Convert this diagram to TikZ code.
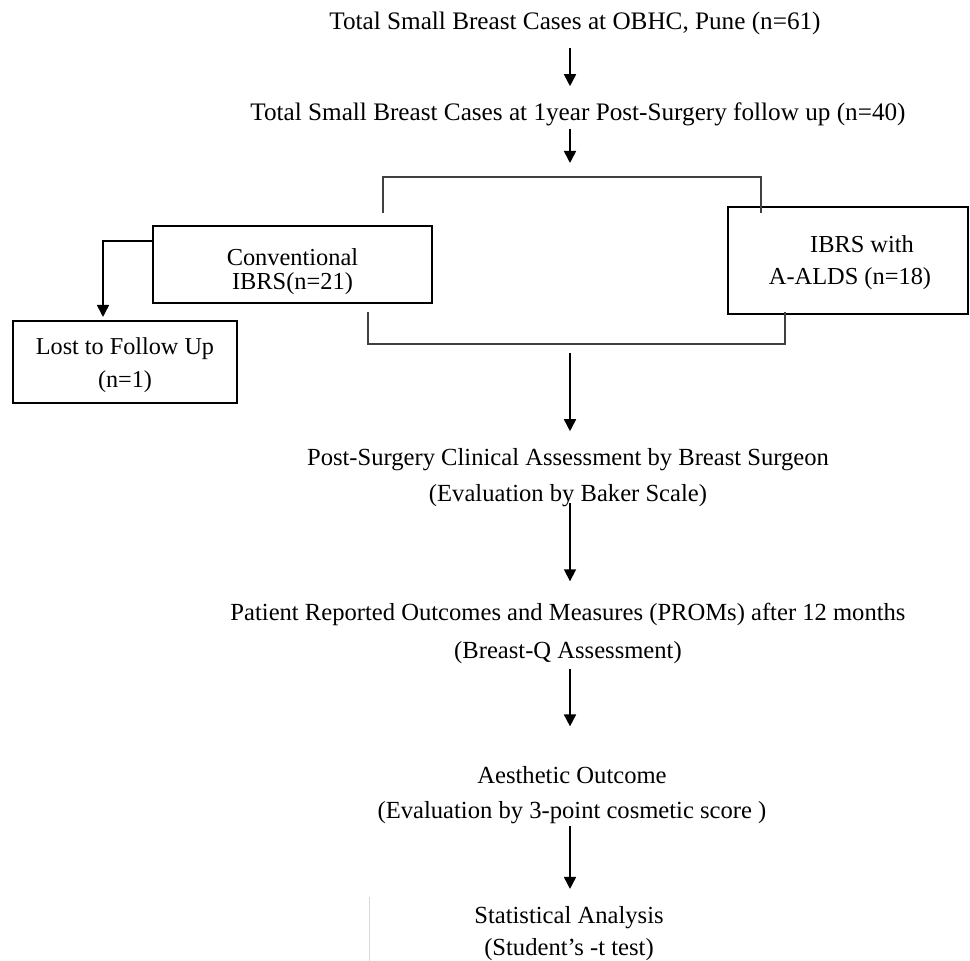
\documentclass[tikz,border=0pt]{standalone}
\usepackage{fontspec}
\setmainfont{Liberation Serif}
\usetikzlibrary{arrows,arrows.meta}
\usetikzlibrary{positioning}

\begin{document}
\begin{tikzpicture}[x=0.5pt,y=-0.5pt,->,>={Triangle[length=6pt,width=6pt]},semithick]
	\tikzstyle{every node}=[text=black]
	\tikzstyle{stage}=[align=center, inner sep=1pt, font=\fontsize{12.3}{18}\selectfont]
	\tikzstyle{head}=[stage, font=\fontsize{12.6}{16}\selectfont]
	\tikzstyle{group}=[draw=black, line width=1pt, inner sep=1pt]
	\tikzstyle{caption}=[align=center, inner sep=1pt]
	\tikzstyle{bracket}=[-, draw=black!75, line width=0.55pt]
	\tikzstyle{flow}=[->, line width=0.85pt]
	\useasboundingbox (0,0) rectangle (970,961);

	% stages down the middle
	\node[head]  (total)  at (575,23.9)  {Total Small Breast Cases at OBHC, Pune (n=61)};
	\node[head]  (follow) at (578,114.4) {Total Small Breast Cases at 1year Post-Surgery follow up (n=40)};
	\node[stage] (clin)   at (568,477.4) {Post-Surgery Clinical Assessment by Breast Surgeon\\(Evaluation by Baker Scale)};
	\node[stage, font=\fontsize{12.3}{19}\selectfont]   (proms) at (568,633.4) {Patient Reported Outcomes and Measures (PROMs) after 12 months\\(Breast-Q Assessment)};
	\node[stage, font=\fontsize{12.3}{17.5}\selectfont] (aes)   at (572,794.9) {Aesthetic Outcome\\(Evaluation by 3-point cosmetic score )};
	\node[stage, font=\fontsize{12.3}{16}\selectfont]   (stat)  at (569,933.5) {Statistical Analysis\\(Student’s -t test)};

	% the two arms and the drop-out
	\node[group, minimum width=139.5pt, minimum height=38.5pt,
	      label={[caption, font=\fontsize{12.2}{12}\selectfont, yshift=-3.7pt]center:Conventional\\IBRS(n=21)}] (conv) at (292.5,264.5) {};
	\node[group, minimum width=120pt, minimum height=53.5pt,
	      label={[caption, font=\fontsize{12.2}{16}\selectfont, yshift=-1.2pt, xshift=1pt]center:\hspace*{12pt}IBRS with\\A-ALDS (n=18)}] (alds) at (848,260.5) {};
	\node[group, minimum width=112pt, minimum height=41pt,
	      label={[caption, font=\fontsize{12.1}{16.5}\selectfont, yshift=-1.7pt]center:Lost to Follow Up\\(n=1)}] (lost) at (125,362) {};

	\coordinate (top)  at (570,177);
	\coordinate (tl)   at (383,213);
	\coordinate (tr)   at (761,213);
	\coordinate (bot)  at (570,344);
	\coordinate (bl)   at (368,312);
	\coordinate (br)   at (785,312);
	\coordinate (cout) at (154,241);

	\draw[flow, shorten <=5.1pt, shorten >=7pt] (total.south -| 570,0) -- (follow.north -| 570,0);
	\draw[flow, shorten >=7pt] (follow.south -| 570,0) -- (top);
	\draw[bracket] (tl) |- (top) -| (tr);
	\draw[bracket] (bl) |- (bot) -| (br);
	\draw[flow] (cout) -| ([yshift=1.5pt]lost.north -| 103,0);
	\draw[flow, shorten <=4.5pt, shorten >=7.2pt] (bot) -- (clin.north -| 570,0);
	\draw[flow, shorten <=-3.2pt, shorten >=9.6pt] (clin.south -| 570,0) -- (proms.north -| 570,0);
	\draw[flow, shorten <=1.3pt, shorten >=18.6pt] (proms.south -| 570,0) -- (aes.north -| 570,0);
	\draw[flow, shorten >=7.4pt] (aes.south -| 570,0) -- (stat.north -| 570,0);

	% faint rule at the foot
	\draw[-, draw=black!15, line width=0.5pt] (369,897) -- (369,961);
\end{tikzpicture}
\end{document}
